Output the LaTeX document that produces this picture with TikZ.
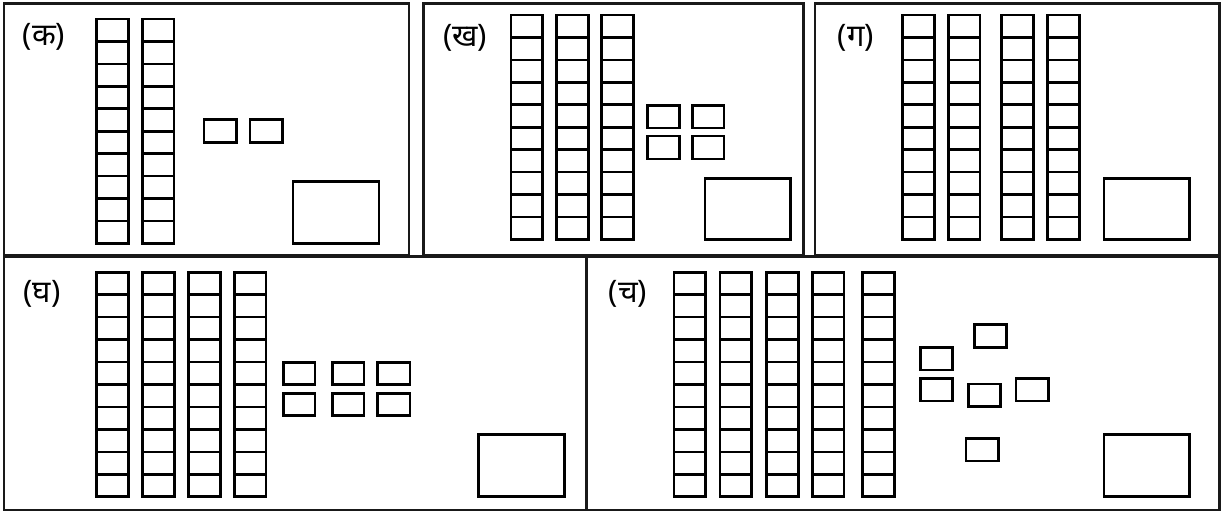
\documentclass[tikz,border=0pt]{standalone}
\usepackage{fontspec}
\newfontfamily\deva[Script=Devanagari]{Noto Sans}
\tikzset{
  ln/.style={line width=2.6pt, draw=black},
  frame/.style={line width=2.6pt, draw=black!90},
  lbl/.style={font=\deva\fontsize{31}{34}\selectfont, inner sep=0pt, anchor=center},
  rod/.pic={
    \draw[ln] (0,0) rectangle (31.5,224.4);
    \foreach \i in {1,...,9} \draw[ln] (0,22.44*\i) -- (31.5,22.44*\i);
  }
}
\begin{document}
\begin{tikzpicture}[x=1pt,y=-1pt]
\fill[white] (0,0) rectangle (1221,512);
\useasboundingbox (0,0) rectangle (1221,512);
% frames
\draw[frame] (4,3.3) rectangle (409,255.5);
\draw[frame] (423.5,3.3) rectangle (803.3,255.5);
\draw[frame] (815,3.3) rectangle (1219.5,255.5);
\draw[frame] (4,256.5) rectangle (586.5,510);
\draw[frame] (586.5,256.5) rectangle (1219.5,510);
% panel 1
\node[lbl] (lk) at (44,37) {(क)};
\foreach \x in {96.7,142.3} \pic at (\x,19) {rod};
\draw[ln] (204,119.3) rectangle (236.7,142.7);
\draw[ln] (250,119.3) rectangle (282.7,142.7);
\draw[ln] (293,181.7) rectangle (379,243.3);
% panel 2
\node[lbl] (lkh) at (465,38) {(ख)};
\foreach \x in {511,556.7,601.7} \pic at (\x,15) {rod};
\draw[ln] (647.7,105.3) rectangle (679.3,128);
\draw[ln] (692.3,105.3) rectangle (724,128);
\draw[ln] (647.7,136) rectangle (679.3,159);
\draw[ln] (692.3,136) rectangle (724,159);
\draw[ln] (705,178.3) rectangle (790.3,239.3);
% panel 3
\node[lbl] (lg) at (856,38) {(ग)};
\foreach \x in {902.7,948.3,1001.7,1047.7} \pic at (\x,15) {rod};
\draw[ln] (1104,178.3) rectangle (1189.3,239.3);
% panel 4
\node[lbl] (lgh) at (42,294) {(घ)};
\foreach \x in {96.7,142.7,188.7,234.3} \pic at (\x,272.3) {rod};
\foreach \x/\xx in {283.3/315,332.3/364,377.7/410} {
  \draw[ln] (\x,362.3) rectangle (\xx,384.7);
  \draw[ln] (\x,393.3) rectangle (\xx,415.7);
}
\draw[ln] (478.7,434.3) rectangle (564.3,496.7);
% panel 5
\node[lbl] (lc) at (628,294) {(च)};
\foreach \x in {674,720,766.7,812.3,862.7} \pic at (\x,272.3) {rod};
\draw[ln] (974.3,324.3) rectangle (1006.7,347.7);
\draw[ln] (920.7,347.3) rectangle (952.7,370);
\draw[ln] (920.7,378.3) rectangle (952.7,401);
\draw[ln] (968.3,384) rectangle (1000.7,406.7);
\draw[ln] (1016,378.3) rectangle (1048.3,401);
\draw[ln] (966,438.3) rectangle (998.3,461);
\draw[ln] (1104,434.3) rectangle (1189.3,496.7);
\end{tikzpicture}
\end{document}
